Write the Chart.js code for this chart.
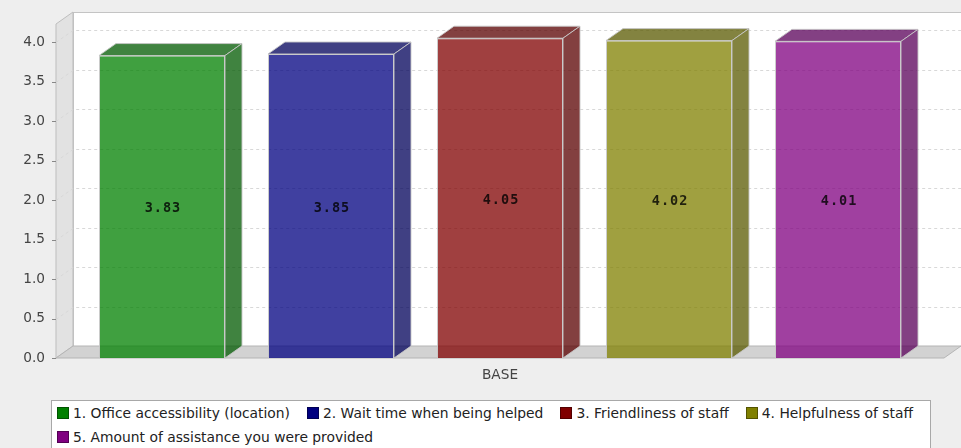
<!DOCTYPE html>
<html>
<head>
<meta charset="utf-8">
<script src="https://cdn.jsdelivr.net/npm/chart.js@4"></script>
<style>
  html, body { margin: 0; padding: 0; background: #eeeeee; overflow: hidden; }
  #wrap { position: relative; width: 961px; height: 448px; }
  #chart { position: absolute; left: 0; top: 0; }
  #legend {
    position: absolute; left: 51px; top: 400px; width: 880px; height: 60px;
    background: #fff; border: 1px solid #a8a8a8; box-sizing: border-box;
    font: 13.85px "DejaVu Sans", sans-serif; color: #222;
    padding: 0 0 0 5px;
  }
  .item { display: inline-flex; align-items: center; height: 24px; margin-right: 17px; white-space: nowrap; }
  .swatch { width: 12px; height: 12px; margin-right: 4px; box-sizing: border-box; border: 1px solid rgba(0,0,0,0.35); }
</style>
</head>
<body>
<div id="wrap">
  <canvas id="chart" width="961" height="448"></canvas>
  <div id="legend"></div>
</div>
<script>
// Chart data
const categories = ["BASE"];
const seriesNames = [
  "1. Office accessibility (location)",
  "2. Wait time when being helped",
  "3. Friendliness of staff",
  "4. Helpfulness of staff",
  "5. Amount of assistance you were provided"
];
const seriesValues = [3.83, 3.85, 4.05, 4.02, 4.01];
const seriesColors = ["#008000", "#000080", "#800000", "#808000", "#800080"];
const yTickValues = [0, 0.5, 1, 1.5, 2, 2.5, 3, 3.5, 4];
const yTickLabels = ["0.0", "0.5", "1.0", "1.5", "2.0", "2.5", "3.0", "3.5", "4.0"];

// 3D look
const DX = 17, DY = 12;
const ALPHA = 0.75;

function rgba(hex, alpha, factor) {
  const f = factor || 1;
  const r = Math.floor(parseInt(hex.slice(1, 3), 16) * f);
  const g = Math.floor(parseInt(hex.slice(3, 5), 16) * f);
  const b = Math.floor(parseInt(hex.slice(5, 7), 16) * f);
  return `rgba(${r},${g},${b},${alpha})`;
}

const plot3d = {
  id: "plot3d",
  beforeDatasetsDraw(chart) {
    const { ctx, chartArea: a, scales: { y } } = chart;
    ctx.save();
    // back wall
    ctx.fillStyle = "#ffffff";
    ctx.fillRect(a.left + DX, a.top - DY, a.right - a.left, a.bottom - a.top);
    ctx.strokeStyle = "#c4c4c4";
    ctx.lineWidth = 1;
    ctx.strokeRect(a.left + DX + 0.5, a.top - DY + 0.5, a.right - a.left, a.bottom - a.top);
    // left wall
    ctx.beginPath();
    ctx.moveTo(a.left, a.top);
    ctx.lineTo(a.left + DX, a.top - DY);
    ctx.lineTo(a.left + DX, a.bottom - DY);
    ctx.lineTo(a.left, a.bottom);
    ctx.closePath();
    ctx.fillStyle = "#e2e2e2";
    ctx.fill();
    ctx.strokeStyle = "#bdbdbd";
    ctx.stroke();
    // floor
    ctx.beginPath();
    ctx.moveTo(a.left, a.bottom);
    ctx.lineTo(a.left + DX, a.bottom - DY);
    ctx.lineTo(a.right + DX, a.bottom - DY);
    ctx.lineTo(a.right, a.bottom);
    ctx.closePath();
    ctx.fillStyle = "#d2d2d2";
    ctx.fill();
    ctx.strokeStyle = "#b4b4b4";
    ctx.stroke();
    // grid lines
    ctx.setLineDash([3, 3]);
    ctx.strokeStyle = "#d8d8d8";
    yTickValues.forEach(v => {
      if (v === 0) return;
      const py = Math.round(y.getPixelForValue(v)) + 0.5;
      ctx.beginPath();
      ctx.moveTo(a.left, py);
      ctx.lineTo(a.left + DX, py - DY);
      ctx.lineTo(a.right + DX, py - DY);
      ctx.stroke();
    });
    ctx.setLineDash([]);
    // tick marks
    ctx.strokeStyle = "#888";
    yTickValues.forEach(v => {
      const py = Math.round(y.getPixelForValue(v)) + 0.5;
      ctx.beginPath();
      ctx.moveTo(a.left - 4, py);
      ctx.lineTo(a.left, py);
      ctx.stroke();
    });
    ctx.restore();
  },
  afterDatasetsDraw(chart) {
    const { ctx } = chart;
    ctx.save();
    chart.data.datasets.forEach((ds, i) => {
      const meta = chart.getDatasetMeta(i);
      meta.data.forEach(bar => {
        const { x, y, base, width } = bar.getProps(["x", "y", "base", "width"], true);
        const l = x - width / 2, r = x + width / 2;
        const dark = rgba(seriesColors[i], ALPHA, 0.7);
        ctx.fillStyle = dark;
        ctx.strokeStyle = "rgba(200,200,200,0.9)";
        ctx.lineWidth = 1;
        // top face
        ctx.beginPath();
        ctx.moveTo(l, y);
        ctx.lineTo(l + DX, y - DY);
        ctx.lineTo(r + DX, y - DY);
        ctx.lineTo(r, y);
        ctx.closePath();
        ctx.fill();
        ctx.stroke();
        // side face
        ctx.beginPath();
        ctx.moveTo(r, y);
        ctx.lineTo(r + DX, y - DY);
        ctx.lineTo(r + DX, base - DY);
        ctx.lineTo(r, base);
        ctx.closePath();
        ctx.fill();
        ctx.stroke();
        // value label
        ctx.fillStyle = "rgba(0,0,0,0.8)";
        ctx.font = "bold 13.5px 'DejaVu Sans Mono', monospace";
        ctx.letterSpacing = "1px";
        ctx.textAlign = "center";
        ctx.textBaseline = "middle";
        ctx.fillText(seriesValues[i].toFixed(2), x + 1, (y + base) / 2 + 2);
      });
    });
    ctx.restore();
  }
};

new Chart(document.getElementById("chart"), {
  type: "bar",
  data: {
    labels: categories,
    datasets: seriesNames.map((name, i) => ({
      label: name,
      data: [seriesValues[i]],
      backgroundColor: rgba(seriesColors[i], ALPHA),
      borderColor: "rgba(200,200,200,0.9)",
      borderWidth: 1,
      categoryPercentage: 0.9516,
      barPercentage: 0.7456
    }))
  },
  options: {
    responsive: false,
    animation: false,
    layout: { padding: { left: 0, top: 24, right: 17, bottom: 60 } },
    plugins: {
      legend: { display: false },
      tooltip: { enabled: false }
    },
    scales: {
      x: {
        grid: { display: false, drawTicks: false },
        border: { display: false },
        ticks: { color: "#444", padding: 9, font: { family: "DejaVu Sans", size: 13.7 } },
        afterFit(scale) { scale.height = 30; }
      },
      y: {
        min: 0,
        max: 4.23,
        grid: { display: false, drawTicks: false },
        border: { display: false },
        afterBuildTicks(scale) { scale.ticks = yTickValues.map(v => ({ value: v })); },
        ticks: {
          color: "#444",
          padding: 11,
          font: { family: "DejaVu Sans", size: 13.7 },
          callback: (v) => yTickLabels[yTickValues.indexOf(v)]
        },
        afterFit(scale) { scale.width = 56; }
      }
    }
  },
  plugins: [plot3d]
});

// Legend
const legendEl = document.getElementById("legend");
seriesNames.forEach((name, i) => {
  const item = document.createElement("span");
  item.className = "item";
  item.innerHTML = `<span class="swatch" style="background:${seriesColors[i]}"></span>${name}`;
  legendEl.appendChild(item);
});
</script>
</body>
</html>
